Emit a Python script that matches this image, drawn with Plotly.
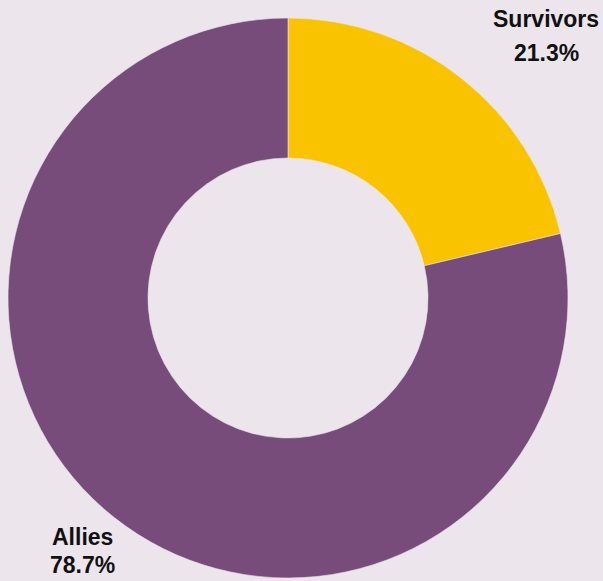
import plotly.graph_objects as go

labels = ["Survivors", "Allies"]
values = [21.3, 78.7]
colors = ["#f9c300", "#774b7a"]

W, H = 603, 581
BG = "#ece6ec"

fig = go.Figure(go.Pie(
    labels=labels,
    values=values,
    hole=0.5,
    sort=False,
    direction="clockwise",
    rotation=0,
    marker=dict(colors=colors, line=dict(color=BG, width=0.6)),
    textinfo="none",
    hoverinfo="label+percent",
    showlegend=False,
    domain=dict(x=[8 / W, 568 / W], y=[(H - 578) / H, (H - 18) / H]),
))

total = sum(values)
label_pos = {"Survivors": (546, 19, 53), "Allies": (82, 537, 565)}
font = dict(family="Liberation Sans, Arial, sans-serif", size=23, color="#111111")
for lab, val in zip(labels, values):
    x, y1, y2 = label_pos[lab]
    pct = f"{val / total * 100:.1f}%"
    for txt, yy in ((lab, y1), (pct, y2)):
        fig.add_annotation(
            text=f"<b>{txt}</b>", x=x / W, y=1 - yy / H,
            xref="paper", yref="paper", xanchor="center", yanchor="middle",
            showarrow=False, font=font,
        )

fig.update_layout(
    width=W, height=H,
    margin=dict(l=0, r=0, t=0, b=0),
    paper_bgcolor=BG, plot_bgcolor=BG,
)

fig.write_html("out.html")
